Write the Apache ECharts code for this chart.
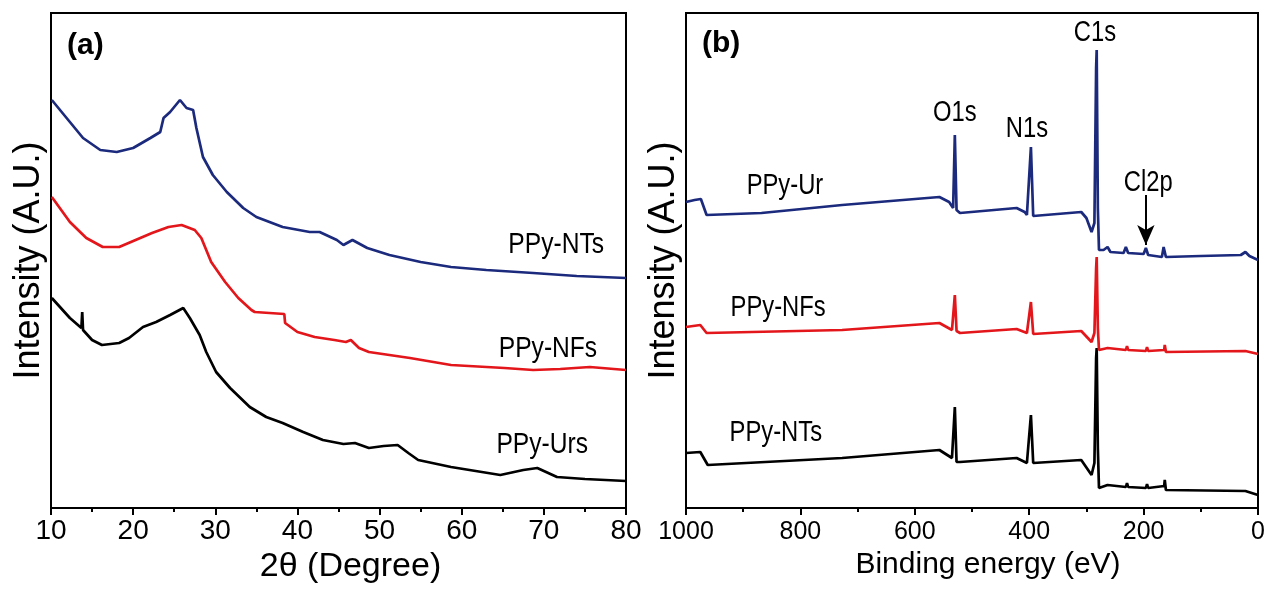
<!DOCTYPE html>
<html>
<head>
<meta charset="utf-8">
<script src="https://cdn.jsdelivr.net/npm/echarts@6/dist/echarts.min.js"></script>
<style>
  html, body { margin: 0; padding: 0; background: #fff; }
  #chart { width: 1272px; height: 594px; }
</style>
</head>
<body>
<div id="chart"></div>
<script>
// (a) XRD, 2theta in degrees, intensity in arbitrary units
var xrdNTs = [[10.1,408],[12.3,386],[13.9,370],[16,358],[18,356],[20,360],[22.1,370],[23.3,376],[23.7,390],[24.5,396],[25.7,408],[26.5,400],[27.3,398],[27.7,380],[28.5,351],[29.7,333],[31.4,316],[33.4,300],[35,291],[38.2,281],[41.5,276],[42.7,276],[44.8,268],[45.6,263],[46.7,268],[48.5,260],[51.2,253],[55,246],[58.7,241],[63,238],[68.7,235],[74,232],[80,230]];
var xrdNFs = [[10.1,311],[12.3,286],[14.3,270],[16.3,261],[18.3,261],[20.3,268],[22.3,275],[24.3,281],[25.9,283],[27.5,278],[28.3,270],[29.5,246],[31.2,226],[32.8,210],[34.4,198],[34.8,196],[38.4,194],[38.5,185],[40,176],[42.1,171],[44.5,168],[45.9,166],[46.5,168],[47.5,160],[48.7,156],[53.7,150],[58.7,143],[65.2,140],[68.7,138],[72,139],[75.6,141],[80,138]];
var xrdUrs = [[10.1,210],[12.3,190],[13.7,180],[13.8,196],[13.9,178],[15,168],[16.2,163],[18.3,165],[19.5,170],[21.2,181],[22.8,186],[24.5,193],[26.1,200],[26.9,190],[28.1,173],[28.9,156],[30.1,136],[31.8,120],[34.2,101],[36.2,91],[38.2,85],[40.7,76],[43.1,68],[45.6,64],[47,65],[48.7,60],[50.5,62],[52.2,63],[53.5,55],[54.7,48],[58.7,41],[64.7,33],[67.5,38],[69.2,40],[71.6,31],[75,29],[80,27]];
var xrdLabels = [[71.5,263,'PPy-NTs'],[70.5,159,'PPy-NFs'],[69.8,63,'PPy-Urs']];

// (b) XPS survey, binding energy in eV
var xpsUr = [[1000,306],[985,308],[974,309],[964,293],[868,295],[727,303],[557,311],[540,306],[533,300],[530,373],[527,298],[521,295],[422,300],[408,296],[404,293],[397,361],[393,292],[390,290],[309,296],[300,290],[291,276],[286,285],[283,440],[282,458],[280,300],[278,258],[270,258],[263,261],[258,256],[235,255],[231,261],[227,255],[200,254],[196,260],[192,253],[168,251],[165,261],[161,251],[100,252],[30,253],[22,256],[15,252],[0,248]];
var xpsNFs = [[1000,181],[975,183],[964,175],[727,178],[557,185],[535,178],[533,180],[530,213],[527,177],[521,175],[422,179],[404,175],[397,206],[393,174],[390,173],[309,177],[291,166],[286,175],[283,240],[282,251],[280,180],[278,158],[263,160],[231,158],[229,162],[227,158],[196,157],[194,161],[192,157],[164,158],[163,163],[161,156],[22,157],[0,154]];
var xpsNTs = [[1000,55],[975,56],[962,43],[727,50],[557,58],[535,50],[533,48],[530,101],[527,46],[521,46],[422,50],[404,45],[397,93],[393,45],[390,45],[309,48],[291,33],[286,45],[283,150],[282,160],[280,60],[278,20],[263,23],[231,21],[229,25],[227,21],[196,20],[194,24],[192,20],[164,22],[163,28],[161,18],[22,17],[0,13]];
var xpsLabels = [[827,322,'PPy-Ur'],[839,200,'PPy-NFs'],[843,75,'PPy-NTs'],[530,395,'O1s'],[404,379,'N1s'],[285,475,'C1s'],[192,325,'Cl2p']];
var cl2pArrow = [[196,313],[196,263]];

var BLUE = '#1b2a7c', RED = '#e3161b', BLACK = '#000';
var FONT = 'Liberation Sans, Arial, sans-serif';

function curve(data, color, xi) {
  return {
    type: 'line', xAxisIndex: xi, yAxisIndex: xi, data: data,
    showSymbol: false, symbol: 'none',
    lineStyle: { color: color, width: 2.7 }
  };
}

var axisLineStyle = { show: true, lineStyle: { color: '#000', width: 2 } };

var chart = echarts.init(document.getElementById('chart'));
chart.setOption({
  animation: false,
  backgroundColor: '#fff',
  title: [
    { text: '(a)', left: 62, top: 26, textStyle: { fontFamily: FONT, fontWeight: 'bold', fontSize: 30, color: '#000' } },
    { text: '(b)', left: 697, top: 24, textStyle: { fontFamily: FONT, fontWeight: 'bold', fontSize: 30, color: '#000' } }
  ],
  grid: [
    { left: 51, right: 646, top: 13, bottom: 86, show: true, borderColor: '#000', borderWidth: 2 },
    { left: 686, right: 14, top: 13, bottom: 86, show: true, borderColor: '#000', borderWidth: 2 }
  ],
  xAxis: [
    {
      gridIndex: 0, type: 'value', min: 10, max: 80, interval: 10,
      name: '2θ (Degree)', nameLocation: 'middle', nameGap: 40,
      nameTextStyle: { fontFamily: FONT, fontSize: 34, color: '#000', padding: [0, 0, 0, 24] },
      axisLine: axisLineStyle,
      axisTick: { show: true, inside: false, length: 7, lineStyle: { color: '#000', width: 2 } },
      minorTick: { show: true, splitNumber: 2, length: 4, lineStyle: { color: '#000', width: 2 } },
      axisLabel: { fontFamily: FONT, fontSize: 28, color: '#000', margin: 9 },
      splitLine: { show: false }
    },
    {
      gridIndex: 1, type: 'value', min: 0, max: 1000, interval: 200, inverse: true,
      name: 'Binding energy (eV)', nameLocation: 'middle', nameGap: 37,
      nameTextStyle: { fontFamily: FONT, fontSize: 30, color: '#000', padding: [0, 0, 0, 32] },
      axisLine: axisLineStyle,
      axisTick: { show: true, inside: false, length: 7, lineStyle: { color: '#000', width: 2 } },
      minorTick: { show: true, splitNumber: 2, length: 4, lineStyle: { color: '#000', width: 2 } },
      axisLabel: {
        fontFamily: FONT, fontSize: 25, color: '#000', margin: 12,
        formatter: function (v) { return String(v); }
      },
      splitLine: { show: false }
    }
  ],
  yAxis: [
    {
      gridIndex: 0, type: 'value', min: 0, max: 495,
      name: 'Intensity (A.U.)', nameLocation: 'middle', nameGap: 4,
      nameTextStyle: { fontFamily: FONT, fontSize: 36, color: '#000' },
      axisLine: axisLineStyle, axisTick: { show: false }, axisLabel: { show: false },
      splitLine: { show: false }
    },
    {
      gridIndex: 1, type: 'value', min: 0, max: 495,
      name: 'Intensity (A.U.)', nameLocation: 'middle', nameGap: 4,
      nameTextStyle: { fontFamily: FONT, fontSize: 36, color: '#000' },
      axisLine: axisLineStyle, axisTick: { show: false }, axisLabel: { show: false },
      splitLine: { show: false }
    }
  ],
  series: [
    curve(xrdNTs, BLUE, 0),
    curve(xrdNFs, RED, 0),
    curve(xrdUrs, BLACK, 0),
    curve(xpsNTs, BLACK, 1),
    curve(xpsNFs, RED, 1),
    (function () {
      var s = curve(xpsUr, BLUE, 1);
      s.markLine = {
        silent: true, symbol: ['none', 'arrow'], symbolSize: [13, 20],
        label: { show: false },
        lineStyle: { color: '#000', width: 2, type: 'solid' },
        data: [[{ coord: cl2pArrow[0] }, { coord: cl2pArrow[1] }]]
      };
      return s;
    })()
  ]
});

// curve labels, placed through the grids' own scales, drawn a bit condensed like the original
function textAt(list, gridIndex, size) {
  return list.map(function (d) {
    var p = chart.convertToPixel({ gridIndex: gridIndex }, [d[0], d[1]]);
    return {
      type: 'text', x: p[0], y: p[1], scaleX: 0.82, silent: true,
      style: { text: d[2], fill: '#000', font: size + 'px ' + FONT, align: 'center', verticalAlign: 'middle' }
    };
  });
}
chart.setOption({
  graphic: textAt(xrdLabels, 0, 30).concat(textAt(xpsLabels, 1, 29))
});
</script>
</body>
</html>
